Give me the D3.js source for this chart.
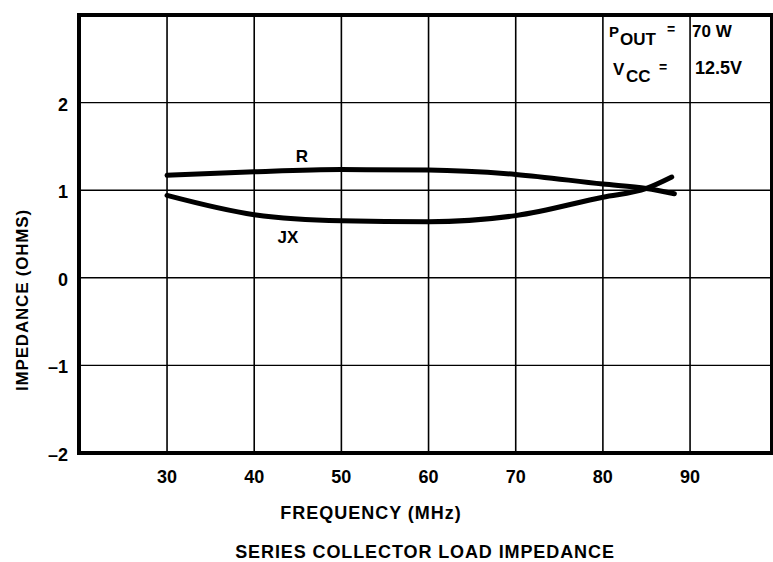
<!DOCTYPE html>
<html>
<head>
<meta charset="utf-8">
<script src="https://d3js.org/d3.v7.min.js"></script>
<style>
  body { margin: 0; background: #fff; }
  text { font-family: "Liberation Sans", Arial, sans-serif; font-weight: bold; fill: #000; }
</style>
</head>
<body>
<div id="container"></div>
<script>
//chart values
var freq = [30, 40, 50, 60, 70, 80, 85, 88.2];
var rValues = [1.17, 1.21, 1.235, 1.23, 1.18, 1.07, 1.02, 0.96];
var jxFreq = [30, 40, 50, 60, 70, 80, 85, 87.9];
var jxValues = [0.94, 0.72, 0.65, 0.64, 0.71, 0.92, 1.02, 1.15];
var xTicks = [30, 40, 50, 60, 70, 80, 90];
var yTicks = [-2, -1, 0, 1, 2];

window.onload = drawChart;

function drawChart() {
    var width = 773, height = 562;
    var left = 79, right = 772, top = 15, bottom = 453;

    var svg = d3.select("#container")
        .append("svg")
        .attr("width", width)
        .attr("height", height);

    var x = d3.scaleLinear().domain([19.9, 99.4]).range([left, right]);
    var y = d3.scaleLinear().domain([-2, 3]).range([bottom, top]);

    //grid lines
    svg.selectAll(".vgrid")
        .data(xTicks)
        .enter()
        .append("line")
        .attr("x1", function(d){ return x(d); })
        .attr("x2", function(d){ return x(d); })
        .attr("y1", top)
        .attr("y2", bottom)
        .attr("stroke", "#000")
        .attr("stroke-width", 1.6);

    svg.selectAll(".hgrid")
        .data(yTicks.filter(function(d){ return d > -2; }))
        .enter()
        .append("line")
        .attr("x1", left)
        .attr("x2", right)
        .attr("y1", function(d){ return y(d); })
        .attr("y2", function(d){ return y(d); })
        .attr("stroke", "#000")
        .attr("stroke-width", 1.4);

    //frame
    svg.append("rect")
        .attr("x", left)
        .attr("y", top)
        .attr("width", right - left)
        .attr("height", bottom - top)
        .attr("fill", "none")
        .attr("stroke", "#000")
        .attr("stroke-width", 4);

    //tick labels
    svg.selectAll(".xlab")
        .data(xTicks)
        .enter()
        .append("text")
        .attr("x", function(d){ return x(d); })
        .attr("y", 483)
        .attr("text-anchor", "middle")
        .style("font-size", "18px")
        .text(function(d){ return d; });

    svg.selectAll(".ylab")
        .data(yTicks)
        .enter()
        .append("text")
        .attr("x", 68)
        .attr("y", function(d){ return y(d) + 8; })
        .attr("text-anchor", "end")
        .style("font-size", "18px")
        .text(function(d){ return d < 0 ? "\u2013" + Math.abs(d) : d; });

    //curves
    var line = d3.line()
        .x(function(d){ return x(d[0]); })
        .y(function(d){ return y(d[1]); })
        .curve(d3.curveMonotoneX);

    svg.append("path")
        .datum(d3.zip(freq, rValues))
        .attr("d", line)
        .attr("fill", "none")
        .attr("stroke", "#000")
        .attr("stroke-width", 5)
        .attr("stroke-linecap", "round");

    svg.append("path")
        .datum(d3.zip(jxFreq, jxValues))
        .attr("d", line)
        .attr("fill", "none")
        .attr("stroke", "#000")
        .attr("stroke-width", 5)
        .attr("stroke-linecap", "round");

    //curve labels
    svg.append("text")
        .attr("x", 302).attr("y", 162)
        .attr("text-anchor", "middle")
        .style("font-size", "17px")
        .text("R");
    svg.append("text")
        .attr("x", 288).attr("y", 243)
        .attr("text-anchor", "middle")
        .style("font-size", "17px")
        .text("JX");

    //conditions box text
    svg.append("text").attr("x", 609).attr("y", 37).style("font-size", "15px").text("P");
    svg.append("text").attr("x", 620).attr("y", 45).style("font-size", "17px").text("OUT");
    svg.append("text").attr("x", 667).attr("y", 34).style("font-size", "14px").text("=");
    svg.append("text").attr("x", 692).attr("y", 37).style("font-size", "17px").text("70 W");

    svg.append("text").attr("x", 613).attr("y", 75).style("font-size", "17px").text("V");
    svg.append("text").attr("x", 626).attr("y", 82).style("font-size", "17px").text("CC");
    svg.append("text").attr("x", 659).attr("y", 72).style("font-size", "14px").text("=");
    svg.append("text").attr("x", 695).attr("y", 74).style("font-size", "18px").text("12.5V");

    //axis titles
    svg.append("text")
        .attr("x", 371).attr("y", 519)
        .attr("text-anchor", "middle")
        .style("font-size", "18px")
        .style("letter-spacing", "1px")
        .text("FREQUENCY (MHz)");

    svg.append("text")
        .attr("x", 425).attr("y", 558)
        .attr("text-anchor", "middle")
        .style("font-size", "18px")
        .style("letter-spacing", "0.9px")
        .text("SERIES COLLECTOR LOAD IMPEDANCE");

    svg.append("text")
        .attr("transform", "translate(28,300) rotate(-90)")
        .attr("text-anchor", "middle")
        .style("font-size", "17px")
        .style("letter-spacing", "0.8px")
        .text("IMPEDANCE  (OHMS)");
}
</script>
</body>
</html>
